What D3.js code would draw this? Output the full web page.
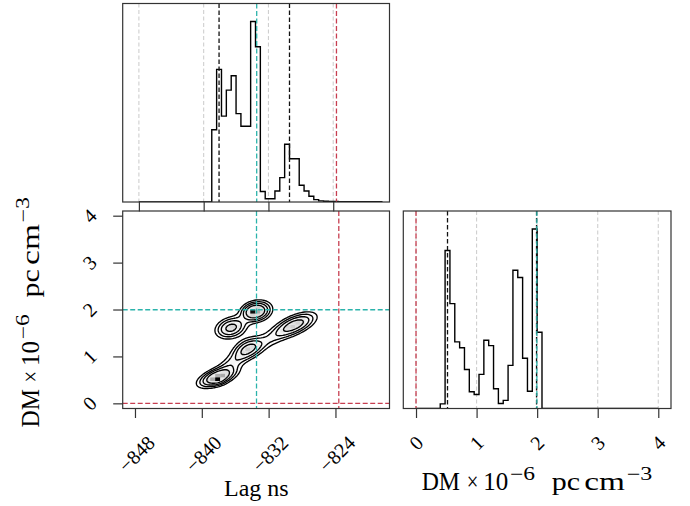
<!DOCTYPE html>
<html>
<head>
<meta charset="utf-8">
<script src="https://cdn.jsdelivr.net/npm/d3@7"></script>
<style>
  body { margin: 0; background: #fff; }
  svg { display: block; }
  text { font-family: "Liberation Serif", "Times New Roman", serif; fill: #000; }
</style>
</head>
<body>
<svg id="chart" width="690" height="506"></svg>
<script>
// ---- Marginal posterior of the lag (ns): 50 bins over [-848, -818], relative heights
const lagBinStart = -848;
const lagBinWidth = 0.6;
const lagCounts = [
  0, 0, 0, 0, 0, 0, 0, 0, 0, 0, 0, 0, 0, 0, 0,
  0.40, 0.735, 0.476, 0.62, 0.70, 0.49, 0.42, 0.42, 1.0, 0.86,
  0.058, 0.018, 0.018, 0.061, 0.135, 0.32, 0.24, 0.24, 0.093, 0.061,
  0.032, 0.013, 0.006, 0.004, 0.003, 0.003, 0.002, 0.002, 0.002, 0.001,
  0.001, 0.001, 0.001, 0.001, 0.001
];

// ---- Marginal posterior of DM (1e-6 pc cm^-3): 50 bins over [0, 4], relative heights
const dmBinStart = 0;
const dmBinWidth = 0.08;
const dmCounts = [
  0, 0, 0, 0, 0,
  0.026, 0.88, 0.584, 0.371, 0.338, 0.217, 0.093, 0.078, 0.19, 0.38,
  0.35, 0.11, 0.028, 0.045, 0.24, 0.77, 0.73, 0.28, 0.096, 1.0,
  0.425, 0, 0, 0, 0, 0, 0, 0, 0, 0,
  0, 0, 0, 0, 0, 0, 0, 0, 0, 0,
  0, 0, 0, 0, 0
];

// ---- Tick values
const lagTicks = [-848, -840, -832, -824];
const dmTicks = [0, 1, 2, 3, 4];

// ---- Quantile markers and reference values
const lagQuantiles = [-838.1, -829.4];
const dmQuantiles = [0.52, 1.99];
const truthFit = { lag: -833.45, dm: 1.995 };   // teal
const truthRef = { lag: -823.6, dm: 0.0 };      // red

// ---- Joint posterior described as a sum of correlated Gaussian modes
//      (two narrow spikes, five broad modes and two bridges between modes)
const compLag    = [-833.9, -833.5, -836.5, -828.8, -834.5, -838.1, -838.1, -831.5, -836.4];
const compDM     = [1.96,   1.96,   1.61,   1.68,   1.16,   0.56,   0.52,   1.40,   0.86];
const compSdLag  = [0.15,   0.85,   0.92,   1.35,   0.92,   1.2,    0.15,   1.9,    1.0];
const compSdDM   = [0.015,  0.10,   0.11,   0.13,   0.12,   0.10,   0.015,  0.2,    0.12];
const compRho    = [0.0,    0.3,    0.35,   0.75,   0.6,    0.78,   0.0,    0.9,    0.8];
const compWeight = [0.012,  0.16,   0.13,   0.16,   0.12,   0.17,   0.012,  0.08,   0.045];
// smoothing kernel applied before contouring (one bin in each direction)
const smoothLag = 0.6, smoothDM = 0.08;

// Enclosed probability of each contour
const contourMass = [0.3, 0.55, 0.75, 0.87];

// Axis title pieces: text, left offset, width along the baseline, superscript flag
const dmTitleParts   = ["DM", "\u00D7", "10", "\u22126", "pc", "cm", "\u22123"];
const dmTitleOffsets = [0, 45, 61.6, 88.3, 130, 162.6, 205];
const dmTitleWidths  = [38.3, 11.6, 25, 25, 28.3, 40.7, 25.6];
const dmTitleSuper   = [false, false, false, true, false, false, true];

// ------------------------------------------------------------------
const svg = d3.select("#chart");
const C_TEAL = "#2bb3ab", C_RED = "#c73e50", C_GRID = "#cfcfcf", C_SPINE = "#333";

const L = 122.7, R = 389.5, T1 = 3.5, B1 = 202, T2 = 211, B2 = 408.5, L3 = 403.3, R3 = 671;

const xTop = d3.scaleLinear().domain([-850.0, -817.05]).range([L, R]);
const x2D  = d3.scaleLinear().domain([-849.47, -817.53]).range([L, R]);
const y2D  = d3.scaleLinear().domain([-0.11, 4.1]).range([B2, T2]);
const xDM  = d3.scaleLinear().domain([-0.21, 4.21]).range([L3, R3]);
const yTop = d3.scaleLinear().domain([0, 1.1 * d3.max(lagCounts)]).range([B1, T1]);
const yDMh = d3.scaleLinear().domain([0, 1.1 * d3.max(dmCounts)]).range([B2, T2]);

function clipRect(id, x0, y0, x1, y1) {
  svg.append("clipPath").attr("id", id).append("rect")
    .attr("x", x0).attr("y", y0).attr("width", x1 - x0).attr("height", y1 - y0);
}
clipRect("clipTop", L, T1, R, B1);
clipRect("clip2D", L, T2, R, B2);
clipRect("clipDM", L3, T2, R3, B2);

function vline(g, x, y0, y1, color, dash, w) {
  g.append("line").attr("x1", x).attr("x2", x).attr("y1", y0).attr("y2", y1)
    .attr("stroke", color).attr("stroke-width", w || 1.3).attr("stroke-dasharray", dash);
}
function hline(g, y, x0, x1, color, dash, w) {
  g.append("line").attr("x1", x0).attr("x2", x1).attr("y1", y).attr("y2", y)
    .attr("stroke", color).attr("stroke-width", w || 1.3).attr("stroke-dasharray", dash);
}

// step outline of a histogram
function stepPath(counts, start, width, xs, ys) {
  const pts = [[xs(start), ys(0)]];
  counts.forEach((c, i) => {
    const a = start + i * width, b = a + width;
    pts.push([xs(a), ys(c)], [xs(b), ys(c)]);
  });
  pts.push([xs(start + counts.length * width), ys(0)]);
  return d3.line()(pts);
}

// ---------------- top panel: lag marginal ----------------
const gTop = svg.append("g").attr("clip-path", "url(#clipTop)");
lagTicks.forEach(t => vline(gTop, xTop(t), T1, B1, C_GRID, "4,2.5", 1.1));
gTop.append("path").attr("d", stepPath(lagCounts, lagBinStart, lagBinWidth, xTop, yTop))
  .attr("fill", "none").attr("stroke", "#000").attr("stroke-width", 1.4);
lagQuantiles.forEach(q => vline(gTop, xTop(q), T1, B1, "#111", "4.5,2.5"));
vline(gTop, xTop(truthFit.lag), T1, B1, C_TEAL, "5,2.5");
vline(gTop, xTop(truthRef.lag), T1, B1, C_RED, "5,2.5");

// ---------------- right panel: DM marginal ----------------
const gDM = svg.append("g").attr("clip-path", "url(#clipDM)");
dmTicks.forEach(t => vline(gDM, xDM(t), T2, B2, C_GRID, "4,2.5", 1.1));
gDM.append("path").attr("d", stepPath(dmCounts, dmBinStart, dmBinWidth, xDM, yDMh))
  .attr("fill", "none").attr("stroke", "#000").attr("stroke-width", 1.4);
dmQuantiles.forEach(q => vline(gDM, xDM(q), T2, B2, "#111", "4.5,2.5"));
vline(gDM, xDM(truthRef.dm), T2, B2, C_RED, "5,2.5");
vline(gDM, xDM(truthFit.dm), T2, B2, C_TEAL, "5,2.5");

// ---------------- joint panel ----------------
function jointDensity(l, d, sl, sd) {
  let s = 0;
  for (let k = 0; k < compWeight.length; k++) {
    const ax = compSdLag[k], ay = compSdDM[k], r0 = compRho[k];
    const vx = ax * ax + sl * sl, vy = ay * ay + sd * sd;
    const sx = Math.sqrt(vx), sy = Math.sqrt(vy);
    const r = (r0 * ax * ay) / (sx * sy);
    const u = (l - compLag[k]) / sx, v = (d - compDM[k]) / sy;
    const q = (u * u - 2 * r * u * v + v * v) / (1 - r * r);
    s += compWeight[k] * Math.exp(-0.5 * q) / (2 * Math.PI * sx * sy * Math.sqrt(1 - r * r));
  }
  return s;
}

const g2 = svg.append("g").attr("clip-path", "url(#clip2D)");

// density image on the 50 x 50 histogram grid (cell averages, unsmoothed)
const nCell = 50, nSub = 6;
const cellW = lagBinWidth, cellH = dmBinWidth;
const cells = [];
for (let j = 0; j < nCell; j++) {
  for (let i = 0; i < nCell; i++) {
    let v = 0;
    for (let a = 0; a < nSub; a++) for (let b = 0; b < nSub; b++) {
      v += jointDensity(lagBinStart + (i + (a + 0.5) / nSub) * cellW,
                        dmBinStart + (j + (b + 0.5) / nSub) * cellH, 0, 0);
    }
    cells.push({ i, j, v: v / (nSub * nSub) });
  }
}
const vMax = d3.max(cells, c => c.v);
cells.forEach(c => {
  const h = c.v / vMax;
  c.g = 1 - h * h;
});
g2.append("g").selectAll("rect").data(cells.filter(c => c.g < 0.995)).join("rect")
  .attr("x", c => x2D(lagBinStart + c.i * cellW))
  .attr("y", c => y2D(dmBinStart + (c.j + 1) * cellH))
  .attr("width", c => x2D(lagBinStart + (c.i + 1) * cellW) - x2D(lagBinStart + c.i * cellW) + 0.3)
  .attr("height", c => y2D(dmBinStart + c.j * cellH) - y2D(dmBinStart + (c.j + 1) * cellH) + 0.3)
  .attr("fill", c => { const k = Math.round(255 * c.g); return `rgb(${k},${k},${k})`; });

// contours of the smoothed density on a finer grid
const nxC = 150, nyC = 200;
const dxC = (lagBinWidth * nCell) / nxC, dyC = (dmBinWidth * nCell) / nyC;
const grid = new Float64Array(nxC * nyC);
for (let j = 0; j < nyC; j++) {
  for (let i = 0; i < nxC; i++) {
    grid[j * nxC + i] = jointDensity(lagBinStart + (i + 0.5) * dxC, dmBinStart + (j + 0.5) * dyC,
                                     smoothLag, smoothDM);
  }
}
const sorted = Array.from(grid).sort((a, b) => b - a);
const total = d3.sum(sorted);
const thresholds = contourMass.map(p => {
  let cum = 0;
  for (let k = 0; k < sorted.length; k++) {
    cum += sorted[k];
    if (cum >= p * total) return sorted[k];
  }
  return sorted[sorted.length - 1];
}).sort((a, b) => a - b);

const contours = d3.contours().size([nxC, nyC]).thresholds(thresholds)(grid);
const gridPath = d3.geoPath(d3.geoTransform({
  point: function (x, y) {
    this.stream.point(x2D(lagBinStart + x * dxC), y2D(dmBinStart + y * dyC));
  }
}));
g2.append("g").selectAll("path").data(contours).join("path")
  .attr("d", gridPath)
  .attr("fill", "none").attr("stroke", "#000").attr("stroke-width", 1.35)
  .attr("stroke-linejoin", "round");

vline(g2, x2D(truthFit.lag), T2, B2, C_TEAL, "5,2.5");
hline(g2, y2D(truthFit.dm), L, R, C_TEAL, "5,2.5");
vline(g2, x2D(truthRef.lag), T2, B2, C_RED, "5,2.5");
hline(g2, y2D(truthRef.dm), L, R, C_RED, "5,2.5");

// ---------------- spines and ticks ----------------
[[L, T1, R, B1], [L, T2, R, B2], [L3, T2, R3, B2]].forEach(([x0, y0, x1, y1]) => {
  svg.append("rect").attr("x", x0).attr("y", y0).attr("width", x1 - x0).attr("height", y1 - y0)
    .attr("fill", "none").attr("stroke", C_SPINE).attr("stroke-width", 1.2);
});

function ticksX(xs, values, y) {
  const g = svg.append("g").attr("transform", `translate(0,${y})`)
    .call(d3.axisBottom(xs).tickValues(values).tickSize(9.5).tickSizeOuter(0).tickFormat(""));
  g.select(".domain").remove();
  g.selectAll("line").attr("stroke", C_SPINE).attr("stroke-width", 1.2);
}
ticksX(xTop, lagTicks, B1);
ticksX(x2D, lagTicks, B2);
ticksX(xDM, dmTicks, B2);
const gy = svg.append("g").attr("transform", `translate(${L},0)`)
  .call(d3.axisLeft(y2D).tickValues(dmTicks).tickSize(9.5).tickSizeOuter(0).tickFormat(""));
gy.select(".domain").remove();
gy.selectAll("line").attr("stroke", C_SPINE).attr("stroke-width", 1.2);

// rotated tick labels, placed by their bounding boxes
const fmtNum = v => (v < 0 ? "\u2212" + Math.abs(v) : String(v));
function rotatedLabel(str, cx, cy) {
  return svg.append("text").text(str)
    .attr("font-size", 20)
    .attr("text-anchor", "middle").attr("dominant-baseline", "central")
    .attr("transform", `translate(${cx},${cy}) rotate(-45)`);
}
function shiftLabel(t, dx, dy) {
  const m = t.attr("transform").match(/translate\(([^,]+),([^)]+)\)/);
  t.attr("transform", `translate(${+m[1] + dx},${+m[2] + dy}) rotate(-45)`);
}
function placeTop(t, cx, top) {
  const b = t.node().getBoundingClientRect();
  shiftLabel(t, cx - (b.left + b.width / 2), top - b.top);
}
function placeRight(t, right, cy) {
  const b = t.node().getBoundingClientRect();
  shiftLabel(t, right - b.right, cy - (b.top + b.height / 2));
}
lagTicks.forEach(v => placeTop(rotatedLabel(fmtNum(v), x2D(v), 450), x2D(v) + 1.5, 431.5));
dmTicks.forEach(v => placeTop(rotatedLabel(fmtNum(v), xDM(v), 440), xDM(v), 431.5));
dmTicks.forEach(v => placeRight(rotatedLabel(fmtNum(v), 90, y2D(v)), 101, y2D(v)));

// ---------------- axis titles ----------------
function dmTitle(g) {
  dmTitleParts.forEach((s, k) => {
    g.append("text").text(s)
      .attr("x", dmTitleOffsets[k])
      .attr("y", dmTitleSuper[k] ? -10 : 0)
      .attr("font-size", dmTitleSuper[k] ? 18 : 25)
      .attr("textLength", dmTitleWidths[k])
      .attr("lengthAdjust", "spacingAndGlyphs");
  });
}
svg.append("text").text("Lag ns").attr("x", 256.3).attr("y", 495.5)
  .attr("text-anchor", "middle").attr("font-size", 24);
svg.append("g").attr("transform", "translate(421.7,490)").call(dmTitle);
svg.append("g").attr("transform", "translate(39,427.5) rotate(-90)").call(dmTitle);
</script>
</body>
</html>
